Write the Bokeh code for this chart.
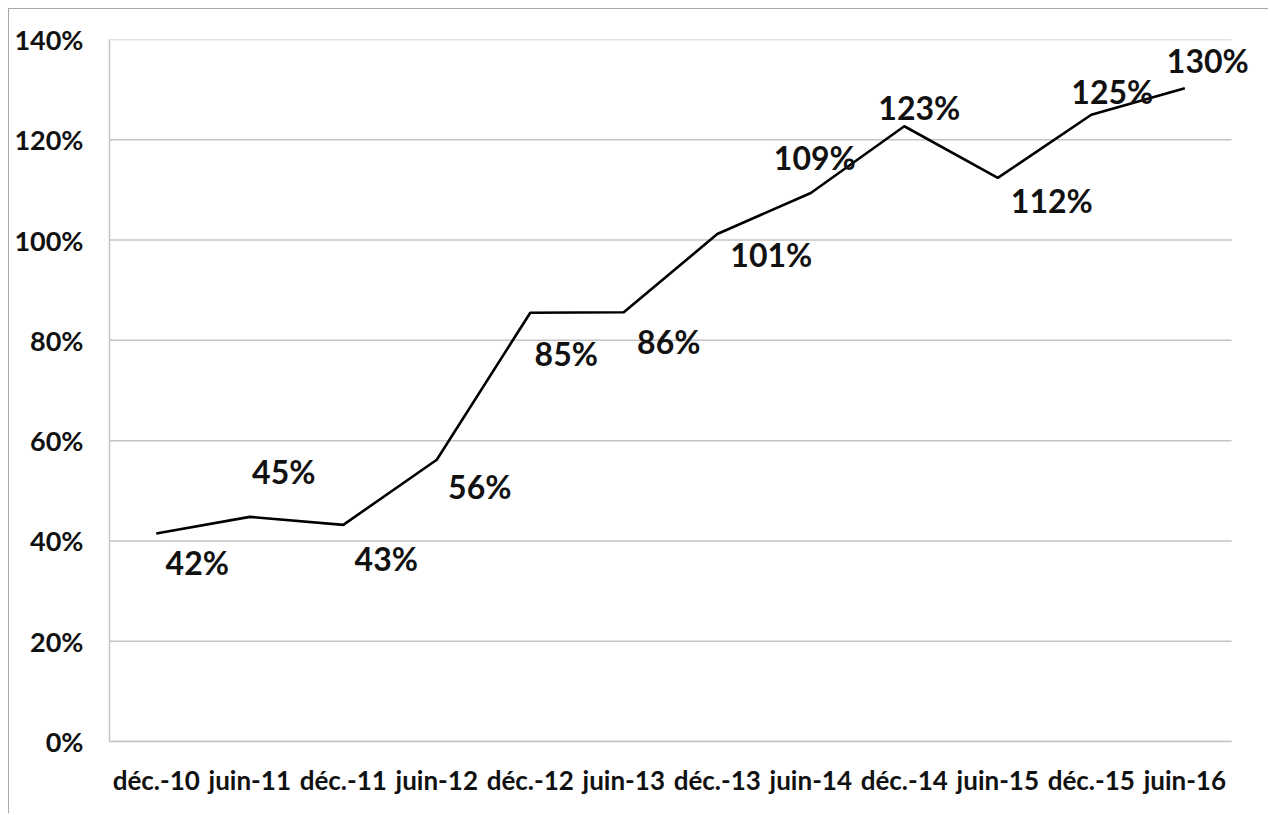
from bokeh.plotting import figure
from bokeh.models import ColumnDataSource, FixedTicker, PrintfTickFormatter, Range1d, LabelSet
from bokeh.core.properties import value
from bokeh.embed import file_html
from bokeh.resources import INLINE

# ---- data ----
categories = ["déc.-10", "juin-11", "déc.-11", "juin-12", "déc.-12", "juin-13",
              "déc.-13", "juin-14", "déc.-14", "juin-15", "déc.-15", "juin-16"]
ratio_pct = [41.5, 44.8, 43.2, 56.2, 85.5, 85.6, 101.2, 109.4, 122.7, 112.4, 125.0, 130.3]
label_text = ["42%", "45%", "43%", "56%", "85%", "86%", "101%", "109%", "123%", "112%", "125%", "130%"]
y_ticks = [0, 20, 40, 60, 80, 100, 120, 140]

# ---- label placement (screen px offsets, layout only; dy positive = up) ----
label_dx = [41, 34, 43, 43, 36, 45, 54, 4, 15, 54, 21, 23]
label_dy = [-29, 45, -34, -27, -41, -29, -20, 35, 19, -23, 23, 28]

FONT = "Lato"
GRID = "#c4c4c4"

n = len(categories)
xs = list(range(n))
x_lo, x_hi = -0.5, n - 0.5

p = figure(x_range=Range1d(x_lo, x_hi + 0.32), y_range=Range1d(0, 140),
           width=1260, height=805, output_backend="svg", toolbar_location=None,
           min_border_left=100, min_border_right=8, min_border_top=30, min_border_bottom=73)
p.styles = {"margin-left": "8px", "margin-top": "8px",
            "border-left": "1.5px solid #a8a8a8", "border-top": "1.5px solid #a8a8a8"}
p.outline_line_color = None
p.background_fill_color = "white"
p.border_fill_color = "white"

# horizontal gridlines, limited to the category band
p.xgrid.grid_line_color = None
p.ygrid.grid_line_color = None
p.segment(x0=[x_lo] * len(y_ticks), x1=[x_hi] * len(y_ticks), y0=y_ticks, y1=y_ticks,
          line_color=GRID, line_width=1.5)

src = ColumnDataSource(dict(x=xs, y=ratio_pct, t=label_text, dx=label_dx, dy=label_dy))
p.line(x="x", y="y", source=src, line_color="black", line_width=2.6)
labels = LabelSet(x="x", y="y", text="t", x_offset="dx", y_offset="dy", source=src,
                  text_font=value(FONT), text_font_style="bold", text_font_size="32px",
                  text_align="center", text_baseline="middle", text_color="#111111")
p.add_layout(labels)

# axes
p.yaxis.ticker = FixedTicker(ticks=y_ticks)
p.yaxis.formatter = PrintfTickFormatter(format="%d%%")
p.xaxis.ticker = FixedTicker(ticks=xs)
p.xaxis.major_label_overrides = {i: c for i, c in zip(xs, categories)}
p.xaxis.bounds = (x_lo, x_hi)
for ax in (p.xaxis, p.yaxis):
    ax.axis_line_color = GRID
    ax.axis_line_width = 1.5
    ax.major_tick_line_color = None
    ax.minor_tick_line_color = None
    ax.major_tick_out = 0
    ax.major_tick_in = 0
    ax.minor_tick_out = 0
    ax.minor_tick_in = 0
    ax.major_label_text_font = FONT
    ax.major_label_text_font_style = "bold"
    ax.major_label_text_color = "#111111"
p.yaxis.major_label_text_font_size = "27px"
p.yaxis.major_label_standoff = 26
p.xaxis.major_label_text_font_size = "26px"
p.xaxis.major_label_standoff = 22

open("out.html", "w").write(file_html(p, INLINE))
